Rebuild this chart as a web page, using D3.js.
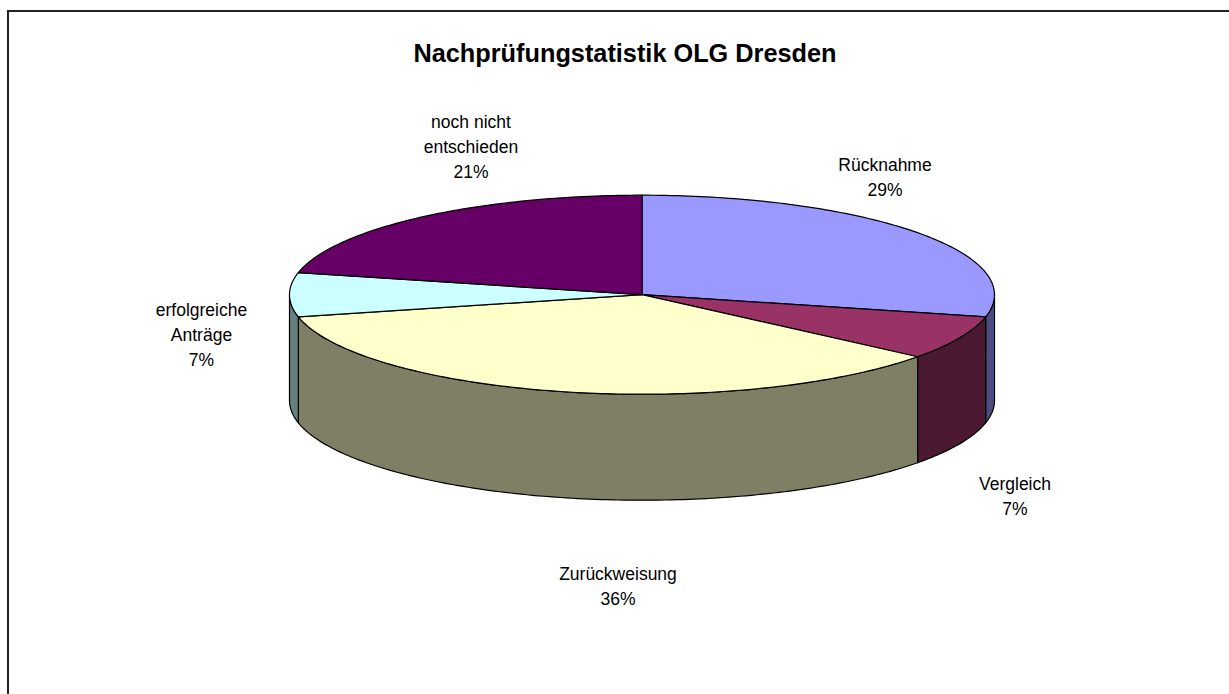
<!DOCTYPE html>
<html><head><meta charset="utf-8">
<script src="https://cdn.jsdelivr.net/npm/d3@7"></script>
<style>html,body{margin:0;padding:0;background:#fff}svg{display:block}
text{font-family:"Liberation Sans",Arial,sans-serif;fill:#000}</style></head>
<body><svg id="c" width="1229" height="694"></svg>
<script>
const chartTitle = "Nachprüfungstatistik OLG Dresden";
const categories = ["Rücknahme","Vergleich","Zurückweisung","erfolgreiche Anträge","noch nicht entschieden"];
const labelLines = [["Rücknahme"],["Vergleich"],["Zurückweisung"],["erfolgreiche","Anträge"],["noch nicht","entschieden"]];
const values = [8,2,10,2,6];
const topColors = ["#9999ff","#993366","#ffffcc","#ccffff","#660066"];
const sideColors = ["#4c4c7f","#4c1933","#7f7f66","#667f7f","#330033"];
const labelPos = [[885,171],[1015,490],[618,580],[201.5,316],[471,128]];

const W=1229,H=694, cx=642, cy=294.7, rx=352.5, ry=99.5, depth=106;
const svg=d3.select("#c");
const frame=svg.append("g").attr("stroke","#222").attr("stroke-width",2);
frame.append("line").attr("x1",7).attr("x2",W).attr("y1",11).attr("y2",11);
frame.append("line").attr("x1",8).attr("x2",8).attr("y1",10).attr("y2",H);

const total=d3.sum(values);
const arcs=d3.pie().sort(null).value(d=>d)(values);
const sx=d3.scaleLinear().domain([-1,1]).range([cx-rx,cx+rx]);
const sy=d3.scaleLinear().domain([-1,1]).range([cy-ry,cy+ry]);
const pt=(a,dz=0)=>[sx(Math.sin(a)),sy(-Math.cos(a))+dz];
const sample=(a0,a1,dz)=>{const n=Math.max(2,Math.ceil((a1-a0)*60));return d3.range(n+1).map(i=>pt(a0+(a1-a0)*i/n,dz));};
const pathLine=d3.line();

// walls: only the part of each slice facing the viewer (PI/2..3PI/2)
const wallG=svg.append("g").attr("stroke","#000").attr("stroke-width",1.2).attr("stroke-linejoin","round");
arcs.forEach((d,i)=>{
  const a0=Math.max(d.startAngle,Math.PI/2), a1=Math.min(d.endAngle,3*Math.PI/2);
  if(a1<=a0) return;
  const pts=sample(a0,a1,0).concat(sample(a0,a1,depth).reverse());
  wallG.append("path").attr("d",pathLine(pts)+"Z").attr("fill",sideColors[i]);
});
// top slices
const topG=svg.append("g").attr("stroke","#000").attr("stroke-width",1.2).attr("stroke-linejoin","round");
arcs.forEach((d,i)=>{
  const pts=[[sx(0),sy(0)],...sample(d.startAngle,d.endAngle,0)];
  topG.append("path").attr("d",pathLine(pts)+"Z").attr("fill",topColors[i]);
});

svg.append("text").attr("x",625).attr("y",62).attr("text-anchor","middle")
  .attr("font-size",25.3).attr("font-weight","bold").text(chartTitle);

const lh=25;
const fmt=v=>Math.round(v/total*100)+"%";
const lab=svg.append("g").attr("text-anchor","middle").attr("font-size",17.5);
categories.forEach((c,i)=>{
  const t=lab.append("text");
  labelLines[i].concat([fmt(values[i])]).forEach((s,j)=>{
    t.append("tspan").attr("x",labelPos[i][0]).attr("y",labelPos[i][1]+j*lh).text(s);
  });
});
</script></body></html>
